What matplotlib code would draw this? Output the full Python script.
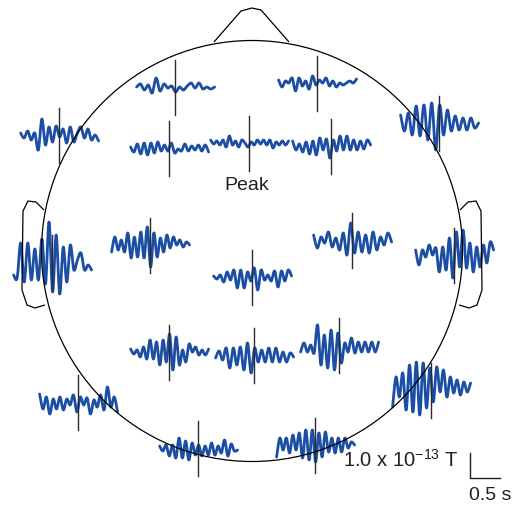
import numpy as np
import matplotlib
matplotlib.use("Agg")
import matplotlib.pyplot as plt
from matplotlib.patches import Circle, Polygon, PathPatch
from matplotlib.path import Path

plt.rcParams["font.family"] = ["Liberation Sans", "DejaVu Sans"]
plt.rcParams["mathtext.fontset"] = "custom"
plt.rcParams["mathtext.rm"] = "Liberation Sans"

# ----------------------
# DATA: MEG waveforms per sensor (fT)
# ----------------------
ch01 = [0, 12, -12, 8, -24, 36, -16, 12, -4, 4, -20, 0, -12, 4, 16, -4, 16, -8, 0, -8, 0]
ch02 = [12, -16, 8, 0, 20, -32, 20, -12, 8, -24, 28, -8, 12, 0, 20, -12, 8, -16, 0, -8, 0, 8, 0, 16]
ch03 = [8, -12, 16, -20, 8, -60, 64, -40, 32, -28, 36, -8, 24, -32, 32, -28, 8, 32, -12, 24, -20, 0, -24]
ch04 = [4, -16, 16, -24, 20, -28, 20, -20, 24, -12, 12, -12, 20, -20, -4, -12, 16, -12, 8, -8, 12, -12, 12, -16]
ch05 = [12, -4, 8, -8, 12, -16, 28, -8, 8, -16, 12, 0, -16, 4, -8, 12, -4, 12, -8, 12, -20, 4, -8, 8, -8, 8]
ch06 = [20, -16, 8, -24, 16, -32, 20, -36, 32, -16, 28, -48, 24, -20, 40, -16, 40, -16, 24, -16, 20, -12, 24, 4]
ch07 = [32, -32, 40, -48, 68, -52, 72, -68, 80, -108, 72, -48, 52, -32, 28, -28, 20, -28, 20, -20, 0]
ch08 = [-52, -64, 76, -80, 76, -72, 52, -72, 92, -88, 160, -120, 108, -128, 60, -80, 68, -32, 8, 36, -32, -12, -32]
ch09 = [-28, 32, -20, 20, -28, 48, -52, 32, -48, 52, -52, 72, -88, 48, -48, 28, -28, 40, -12, 32, 0, 20, -8, 12, 0]
ch10 = [4, -8, 8, -20, 20, -12, 28, -44, 28, -44, 20, -16, 36, -52, 28, -12, 8, -16, 24, -40, 24, -16, 28, 4]
ch11 = [20, -32, 12, -12, 32, -28, 8, -40, 28, -60, 68, -52, 32, -48, 20, -52, 32, -40, 12, -20, 28, -8]
ch12 = [20, -40, 20, -8, 40, 0, 28, -68, 32, -60, 68, -92, 92, -48, 100, -52, 48, -68, 32, -48, 40, -32, 52, 20]
ch13 = [12, -8, 8, -20, 20, -28, 48, -28, 40, -52, 48, -40, 72, -72, 60, -52, 8, -40, 32, 0, 20, -12, 8, -12, 12]
ch14 = [-12, 16, -20, 28, -52, 28, -40, 32, -60, 48, -72, 28, -28, 20, -28, 28, -28, 28, -28, 12, -28, 8, -8]
ch15 = [-28, 8, -28, 0, -32, 80, -80, 40, -92, 60, -100, 48, -72, 8, -28, 28, -32, 12, -28, 12, -28, 12, -28, 12]
ch16 = [-68, 52, -28, 68, -80, 100, -88, 112, -100, 108, -72, 88, -48, 92, -8, 80, -28, 52, -12, 40, -20, 32, -8, 28]
ch17 = [32, -28, 20, -48, 12, -28, 20, -32, 12, -12, 28, -40, 20, -12, 16, -48, 8, -20, 28, -32, 60, -20, 20, -40]
ch18 = [8, -12, 12, -32, 12, -40, 40, -40, 28, -48, 20, -28, 12, -32, 8, -28, 20, -28, 8, -20, 32, -32, 16, -12, -8]
ch19 = [-48, 28, -20, 28, -32, 40, -20, 48, -52, 60, -60, 60, -68, 48, -48, 52, -28, 28, -32, 28, -28, 28, -12, 12, 0]

channels = [ch01, ch02, ch03, ch04, ch05, ch06, ch07, ch08, ch09, ch10,
            ch11, ch12, ch13, ch14, ch15, ch16, ch17, ch18, ch19]

t_start, t_end = -0.64, 0.66   # s, peak at t = 0

# ----------------------
# LAYOUT: sensor positions on the head drawing (pixels)
# ----------------------
sensor_x = [175, 317, 59, 169, 249, 331, 439, 52, 150, 252,
            352, 454, 169, 254, 339, 431, 78, 198, 315]
sensor_y = [87, 83, 135, 148, 143, 146, 123, 262, 245, 277,
            240, 255, 352, 355, 345, 390, 402, 448, 445]

px_per_s = 60.0      # 0.5 s -> 30 px
px_per_fT = 0.25     # 100 fT (1e-13 T) -> 25 px
peak_half = 110      # fT, half length of peak marker

wave_color = "#1c4ea3"
ink = "#231f20"


def smooth_path(x, y):
    # Catmull-Rom style bezier through the samples, only for drawing
    verts = [(x[0], y[0])]
    codes = [Path.MOVETO]
    n = len(x)
    for i in range(n - 1):
        x0, y0 = (x[i - 1], y[i - 1]) if i > 0 else (x[i], y[i])
        x3, y3 = (x[i + 2], y[i + 2]) if i + 2 < n else (x[i + 1], y[i + 1])
        c1 = (x[i] + (x[i + 1] - x0) / 6, y[i] + (y[i + 1] - y0) / 6)
        c2 = (x[i + 1] - (x3 - x[i]) / 6, y[i + 1] - (y3 - y[i]) / 6)
        verts += [c1, c2, (x[i + 1], y[i + 1])]
        codes += [Path.CURVE4] * 3
    return Path(verts, codes)


fig = plt.figure(figsize=(5.14, 5.05), dpi=100)
ax = fig.add_axes([0, 0, 1, 1])
ax.set_xlim(0, 514)
ax.set_ylim(505, 0)
ax.axis("off")

# ----------------------
# WAVEFORMS + PEAK MARKERS
# ----------------------
for vals, sx, sy in zip(channels, sensor_x, sensor_y):
    vals = np.array(vals, dtype=float)
    t = np.linspace(t_start, t_end, len(vals))
    xs = sx + t * px_per_s
    ys = sy - vals * px_per_fT
    ax.add_patch(PathPatch(smooth_path(xs, ys), fill=False, edgecolor=wave_color,
                           linewidth=2.0, joinstyle="round", capstyle="round", zorder=2))
    ax.plot([sx, sx], [sy - peak_half * px_per_fT, sy + peak_half * px_per_fT],
            color="#2b2b2b", linewidth=1.0, zorder=3)

# ----------------------
# HEAD OUTLINE
# ----------------------
cx, cy, r = 252, 251, 210.5
ax.add_patch(Circle((cx, cy), r, fill=False, edgecolor="black", linewidth=0.9, zorder=4))
nose = [(214, 42), (241, 11), (252, 8), (261, 10), (289, 42)]
ax.add_patch(Polygon(nose, closed=False, fill=False, edgecolor="black", linewidth=0.9, zorder=4))
ear_l = [(44, 210), (36, 202), (28, 201), (23, 211), (22, 290), (27, 305), (35, 308), (45, 305)]
ear_r = [(2 * cx - x, y) for x, y in ear_l]
for ear in (ear_l, ear_r):
    ax.add_patch(Polygon(ear, closed=False, fill=False, edgecolor="black", linewidth=0.9, zorder=4))

# ----------------------
# LABELS + SCALE BAR
# ----------------------
ax.text(247, 186, "Peak", fontsize=14, ha="center", va="center", color=ink)
ax.text(343, 467, "1.0 x 10$^{-13}$ T", fontsize=14.5, ha="left", va="baseline", color=ink)
ax.text(469, 500, "0.5 s", fontsize=14, ha="left", va="baseline", color=ink)
bar_x, bar_y = 470, 478
ax.plot([bar_x, bar_x, bar_x + 0.5 * px_per_s], [bar_y - 100 * px_per_fT, bar_y, bar_y],
        color=ink, linewidth=1.0)

plt.savefig("out.png", dpi=100)
